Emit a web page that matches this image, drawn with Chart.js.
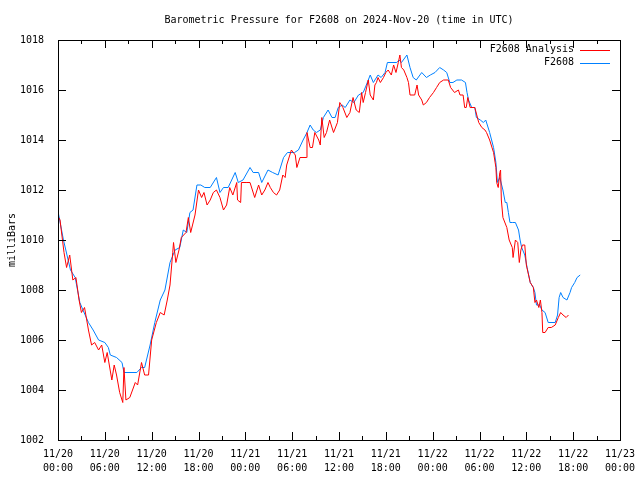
<!DOCTYPE html>
<html>
<head>
<meta charset="utf-8">
<script src="https://cdn.jsdelivr.net/npm/chart.js@4.4.1/dist/chart.umd.min.js"></script>
<style>
  html, body { margin: 0; padding: 0; background: #fff; }
  #wrap { width: 640px; height: 480px; }
</style>
</head>
<body>
<div id="wrap"><canvas id="graficoPressao"></canvas></div>
<script>
// hours since 2024-11-20 00:00 UTC, pressure in mb
const stationHours = [0.0,0.7,1.6,2.2,2.8,3.2,3.9,4.5,5.2,6.0,6.45,6.7,7.5,8.2,8.45,10.1,10.7,11.1,11.8,12.4,13.1,13.7,14.35,15.0,15.6,16.05,16.5,16.9,17.3,17.8,18.3,18.8,19.5,20.3,20.75,21.2,21.8,22.7,23.1,23.7,24.6,25.0,25.7,26.1,26.9,27.5,28.2,28.9,29.4,30.3,30.8,31.4,31.9,32.3,32.7,33.1,33.6,34.0,34.6,35.1,35.5,35.9,36.4,36.8,37.4,37.9,38.5,39.1,39.5,40.0,40.4,41.0,41.4,41.9,42.2,43.4,43.7,44.0,44.7,45.1,45.5,45.9,46.6,47.2,47.7,48.3,48.9,49.4,49.8,50.2,50.6,51.1,51.7,52.2,52.4,52.6,53.0,53.4,53.6,54.1,54.5,54.8,55.3,55.8,56.1,56.3,56.6,57.0,57.3,57.5,57.7,57.9,58.2,58.6,59.0,59.2,59.4,59.8,60.1,60.5,60.9,61.1,61.3,61.7,62.0,62.4,62.8,63.7,64.0,64.2,64.4,64.7,65.2,65.6,65.8,66.2,66.5,66.9,67.0];
const stationPressure = [1011.15,1010.0,1008.8,1008.5,1007.5,1007.2,1006.7,1006.4,1006.0,1005.9,1005.7,1005.4,1005.3,1005.1,1004.7,1004.7,1004.9,1004.9,1005.8,1006.7,1007.6,1008.0,1009.1,1009.6,1009.7,1010.4,1010.3,1011.1,1011.2,1012.2,1012.2,1012.1,1012.1,1012.5,1011.9,1012.1,1012.1,1012.7,1012.3,1012.4,1012.9,1012.7,1012.7,1012.3,1012.8,1012.7,1012.6,1013.3,1013.5,1013.5,1013.6,1014.0,1014.3,1014.6,1014.4,1014.3,1014.4,1014.9,1015.2,1014.9,1014.9,1015.3,1015.4,1015.3,1015.6,1015.5,1015.8,1015.9,1016.2,1016.6,1016.3,1016.6,1016.5,1016.7,1017.1,1017.1,1017.2,1017.1,1017.4,1016.9,1016.5,1016.4,1016.7,1016.5,1016.6,1016.7,1016.9,1016.8,1016.7,1016.3,1016.3,1016.4,1016.4,1016.3,1015.9,1015.6,1015.3,1015.3,1014.9,1014.8,1014.7,1014.8,1014.3,1013.7,1013.1,1012.3,1012.5,1012.0,1011.5,1011.5,1011.1,1010.7,1010.7,1010.7,1010.4,1010.0,1009.7,1009.4,1008.9,1008.3,1008.1,1007.9,1007.4,1007.4,1007.2,1007.1,1006.7,1006.7,1007.0,1007.7,1007.9,1007.7,1007.6,1007.9,1008.1,1008.3,1008.5,1008.6,1008.6];

const analysisHours = [0.1,0.26,0.77,1.1,1.5,1.9,2.3,2.7,3.0,3.4,3.9,4.3,4.7,5.2,5.6,6.0,6.3,6.9,7.2,7.5,7.9,8.3,8.45,8.7,9.2,9.9,10.2,10.7,11.1,11.6,12.0,12.6,13.1,13.6,14.0,14.35,14.7,14.8,15.1,15.5,15.8,16.4,16.7,17.0,17.55,18.0,18.4,18.7,19.1,19.5,19.9,20.3,20.75,21.2,21.6,22.0,22.4,22.9,23.0,23.4,23.5,24.2,24.6,25.2,25.7,26.1,26.5,26.9,27.2,27.6,28.0,28.4,28.8,29.1,29.3,29.9,30.4,30.6,31.0,31.8,31.9,32.3,32.6,32.9,33.4,33.6,33.8,34.1,34.4,34.8,35.3,35.8,36.1,36.5,37.0,37.4,37.8,38.2,38.6,38.9,39.1,39.4,39.75,40.0,40.4,40.6,40.8,41.0,41.3,41.7,42.0,42.3,42.7,43.0,43.3,43.6,43.8,44.0,44.3,44.7,44.9,45.1,45.7,46.0,46.2,46.6,46.8,47.2,47.6,48.1,48.5,48.9,49.4,50.0,50.3,50.8,51.3,51.5,51.9,52.1,52.3,52.5,52.8,53.4,53.9,54.3,54.7,54.9,55.3,55.8,56.1,56.2,56.4,56.6,56.7,56.8,57.0,57.5,57.8,58.2,58.3,58.6,58.9,59.1,59.3,59.5,59.8,60.0,60.5,60.9,61.1,61.3,61.6,61.8,62.0,62.1,62.4,62.8,63.2,63.7,64.1,64.4,64.7,65.1,65.4];
const analysisPressure = [1010.9,1010.8,1009.5,1008.9,1009.4,1008.4,1008.5,1007.6,1007.1,1007.3,1006.4,1005.8,1005.9,1005.6,1005.8,1005.1,1005.5,1004.4,1005.0,1004.6,1003.9,1003.5,1004.9,1003.6,1003.7,1004.3,1004.2,1005.1,1004.6,1004.6,1006.0,1006.7,1007.1,1007.0,1007.6,1008.2,1009.5,1009.9,1009.1,1009.6,1010.1,1010.3,1010.9,1010.3,1011.0,1012.0,1011.7,1011.9,1011.4,1011.6,1011.9,1012.0,1011.7,1011.2,1011.4,1012.1,1011.8,1012.3,1011.6,1011.5,1012.3,1012.3,1012.3,1011.7,1012.2,1011.8,1012.0,1012.3,1012.1,1011.9,1011.8,1012.0,1012.6,1012.5,1013.0,1013.6,1013.4,1012.9,1013.3,1013.3,1014.3,1013.7,1013.7,1014.3,1014.0,1013.8,1014.9,1014.1,1014.3,1014.8,1014.3,1014.7,1015.5,1015.3,1014.9,1015.1,1015.7,1015.2,1015.1,1015.9,1015.5,1015.9,1016.4,1015.8,1015.6,1016.2,1016.3,1016.5,1016.3,1016.5,1016.7,1016.8,1016.6,1017.0,1016.7,1017.1,1017.4,1016.9,1016.8,1016.5,1016.3,1015.8,1015.8,1016.2,1015.8,1015.6,1015.4,1015.5,1015.7,1015.9,1016.1,1016.3,1016.4,1016.4,1016.1,1015.9,1016.0,1015.8,1015.8,1015.3,1015.3,1015.7,1015.3,1015.3,1014.7,1014.5,1014.4,1014.3,1014.0,1013.5,1012.9,1012.3,1012.1,1012.7,1012.8,1011.6,1010.9,1010.5,1010.0,1009.7,1009.3,1010.0,1009.9,1009.1,1009.6,1009.8,1009.8,1009.0,1008.3,1008.1,1007.5,1007.6,1007.3,1007.6,1007.1,1006.3,1006.3,1006.5,1006.5,1006.6,1006.9,1007.1,1007.0,1006.9,1007.0];

const tickDates = ['11/20','11/20','11/20','11/20','11/21','11/21','11/21','11/21','11/22','11/22','11/22','11/22','11/23'];
const tickTimes = ['00:00','06:00','12:00','18:00','00:00','06:00','12:00','18:00','00:00','06:00','12:00','18:00','00:00'];

const FONT = '"DejaVu Sans Mono", "Liberation Mono", monospace';

function toPoints(hours, values) {
    return hours.map((h, i) => ({ x: h, y: values[i] }));
}

// gnuplot-like frame, inward ticks, title and legend
const gnuplotFrame = {
    id: 'gnuplotFrame',
    afterDraw(chart) {
        const ctx = chart.ctx;
        const a = chart.chartArea;
        const xs = chart.scales.x;
        const ys = chart.scales.y;
        ctx.save();
        ctx.strokeStyle = '#000';
        ctx.lineWidth = 1;
        ctx.strokeRect(Math.round(a.left) + 0.5, Math.round(a.top) + 0.5,
            Math.round(a.right - a.left), Math.round(a.bottom - a.top));
        ctx.beginPath();
        xs.ticks.forEach(t => {
            const px = Math.round(xs.getPixelForValue(t.value)) + 0.5;
            const len = t.value % 6 === 0 ? 8 : 4;
            ctx.moveTo(px, a.bottom); ctx.lineTo(px, a.bottom - len);
            ctx.moveTo(px, a.top); ctx.lineTo(px, a.top + len);
        });
        ys.ticks.forEach(t => {
            const py = Math.round(ys.getPixelForValue(t.value)) + 0.5;
            ctx.moveTo(a.left, py); ctx.lineTo(a.left + 8, py);
            ctx.moveTo(a.right, py); ctx.lineTo(a.right - 8, py);
        });
        ctx.stroke();

        ctx.fillStyle = '#000';
        ctx.font = '10px ' + FONT;
        ctx.textAlign = 'center';
        ctx.textBaseline = 'middle';
        ctx.fillText('Barometric Pressure for F2608 on 2024-Nov-20 (time in UTC)', (a.left + a.right) / 2, 20);

        ctx.textAlign = 'right';
        chart.data.datasets.forEach((ds, i) => {
            const y = 49.5 + i * 13;
            ctx.fillStyle = '#000';
            ctx.fillText(ds.label, 574, y);
            ctx.strokeStyle = ds.borderColor;
            ctx.beginPath();
            ctx.moveTo(580, Math.round(y) + 0.5);
            ctx.lineTo(610, Math.round(y) + 0.5);
            ctx.stroke();
        });
        ctx.restore();
    }
};

new Chart(document.getElementById('graficoPressao').getContext('2d'), {
    type: 'line',
    data: {
        datasets: [{
            label: 'F2608 Analysis',
            data: toPoints(analysisHours, analysisPressure),
            borderColor: '#ff0000',
            borderWidth: 1,
            pointRadius: 0,
            tension: 0
        }, {
            label: 'F2608',
            data: toPoints(stationHours, stationPressure),
            borderColor: '#0080ff',
            borderWidth: 1,
            pointRadius: 0,
            tension: 0
        }]
    },
    options: {
        responsive: true,
        maintainAspectRatio: false,
        animation: false,
        layout: { padding: { top: 40, right: 20, left: 0, bottom: 0 } },
        plugins: {
            legend: { display: false },
            title: { display: false },
            tooltip: { enabled: false }
        },
        scales: {
            x: {
                type: 'linear',
                min: 0,
                max: 72,
                grid: { display: false },
                border: { display: false },
                afterFit: scale => { scale.height = 40; },
                ticks: {
                    stepSize: 3,
                    autoSkip: false,
                    maxRotation: 0,
                    padding: -1,
                    color: '#000',
                    font: { family: FONT, size: 10, lineHeight: 1.4 },
                    callback: value => value % 6 === 0 ? [tickDates[value / 6], tickTimes[value / 6]] : ''
                }
            },
            y: {
                min: 1002,
                max: 1018,
                grid: { display: false },
                border: { display: false },
                afterFit: scale => { scale.width = 58; },
                title: {
                    display: true,
                    text: 'milliBars',
                    color: '#000',
                    font: { family: FONT, size: 10 },
                    padding: { top: 6, bottom: 0 }
                },
                ticks: {
                    stepSize: 2,
                    padding: 6,
                    color: '#000',
                    font: { family: FONT, size: 10 },
                    callback: value => String(value)
                }
            }
        }
    },
    plugins: [gnuplotFrame]
});
</script>
</body>
</html>
